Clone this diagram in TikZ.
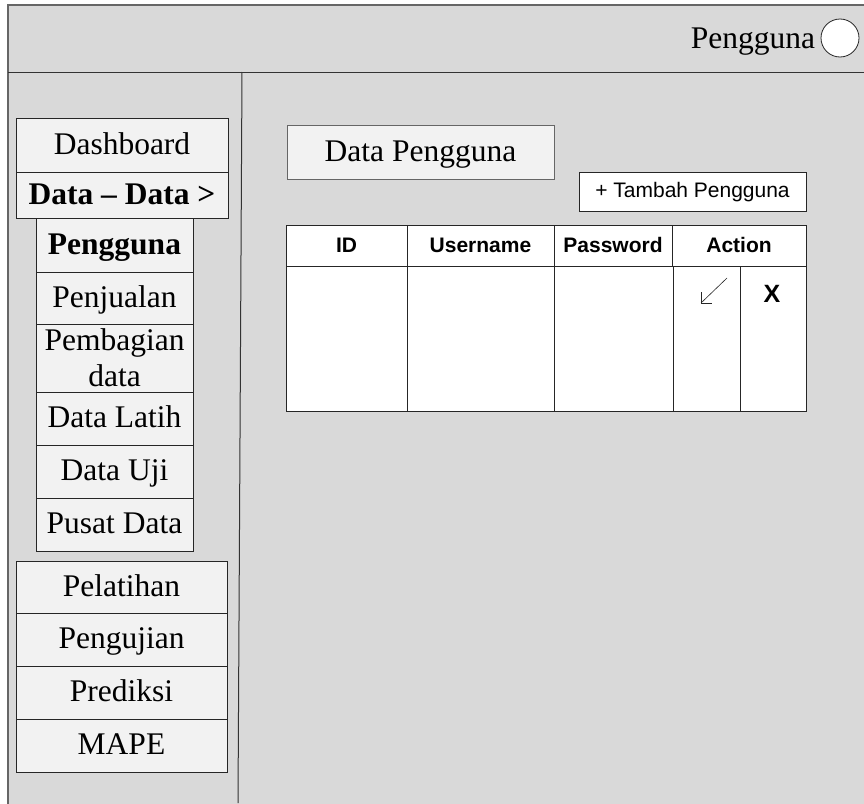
\documentclass[tikz,border=0pt]{standalone}
\usepackage{fontspec}
\setmainfont{Liberation Serif}
\setsansfont{Liberation Sans}
\definecolor{pagebg}{RGB}{217,217,217}
\definecolor{boxfill}{RGB}{242,242,242}
\definecolor{framegray}{RGB}{102,102,102}
\begin{document}
\begin{tikzpicture}[x=1pt,y=-1pt,
  every node/.style={inner sep=0pt, outer sep=0pt},
  serif/.style={font=\fontsize{31.5}{36}\selectfont},
  boxbase/.style={draw=black!85, fill=boxfill, line width=0.8pt, anchor=north west, align=center, serif},
  menu/.style={boxbase, text height=24pt, text depth=6pt},
  cell/.style={draw=black!85, fill=white, line width=0.9pt, anchor=north west},
  headcell/.style={cell, font=\sffamily\bfseries\fontsize{21}{24}\selectfont, text height=16pt, text depth=3pt},
  button/.style={draw=black!85, fill=white, line width=0.8pt, anchor=north west,
    font=\sffamily\fontsize{21}{24}\selectfont, text height=15pt, text depth=4pt}
]
\useasboundingbox (0,0) rectangle (864,803);
\clip (0,0) rectangle (864,803);

% window frame, header bar and sidebar divider
\draw[fill=pagebg, draw=framegray, line width=1.2pt] (8,5) rectangle (880,820);
\draw[black!80, line width=1pt] (8,72) -- (880,72);
\coordinate (divtop) at (242,72);
\coordinate (divbot) at (238,803);
\draw[black!80, line width=1pt] (divtop) -- (divbot);

% header: user name and avatar
\node[serif, anchor=east, text height=24pt, text depth=6pt] (user) at (815,39) {Pengguna};
\node[draw=black!85, fill=white, line width=0.8pt, ellipse/.try, circle, minimum size=38pt] (avatar) at (840,38) {};

% sidebar menu
\node[menu, minimum width=212pt, minimum height=54pt] (dash) at (16,118) {Dashboard};
\node[menu, minimum width=212pt, minimum height=46pt, font=\bfseries\fontsize{31.5}{36}\selectfont] (data) at (16,172) {Data -- Data >};
\node[menu, minimum width=157pt, minimum height=54pt, font=\bfseries\fontsize{31.5}{36}\selectfont] (pengguna) at (36,218) {Pengguna};
\node[menu, minimum width=157pt, minimum height=52pt] (penjualan) at (36,272) {Penjualan};
\node[boxbase, minimum width=157pt, minimum height=68pt] (pembagian) at (36,324) {Pembagian\\data};
\node[menu, minimum width=157pt, minimum height=53pt] (latih) at (36,392) {Data Latih};
\node[menu, minimum width=157pt, minimum height=53pt] (uji) at (36,445) {Data Uji};
\node[menu, minimum width=157pt, minimum height=53pt] (pusat) at (36,498) {Pusat Data};
\node[menu, minimum width=211pt, minimum height=52pt] (pelatihan) at (16,561) {Pelatihan};
\node[menu, minimum width=211pt, minimum height=53pt] (pengujian) at (16,613) {Pengujian};
\node[menu, minimum width=211pt, minimum height=53pt] (prediksi) at (16,666) {Prediksi};
\node[menu, minimum width=211pt, minimum height=53pt] (mape) at (16,719) {MAPE};

% page title and add button
\node[menu, minimum width=267pt, minimum height=54pt, draw=framegray] (title) at (287,125) {Data Pengguna};
\node[button, minimum width=227pt, minimum height=39pt] (add) at (579,172) {+ Tambah Pengguna};

% table header
\node[headcell, minimum width=121pt, minimum height=41pt] (hid) at (286,225) {ID};
\node[headcell, minimum width=147pt, minimum height=41pt] (huser) at (407,225) {Username};
\node[headcell, minimum width=118pt, minimum height=41pt] (hpass) at (554,225) {Password};
\node[headcell, minimum width=134pt, minimum height=41pt] (hact) at (672,225) {Action};

% table body
\node[cell, minimum width=121pt, minimum height=145pt] (bid) at (286,266) {};
\node[cell, minimum width=147pt, minimum height=145pt] (buser) at (407,266) {};
\node[cell, minimum width=119pt, minimum height=145pt] (bpass) at (554,266) {};
\node[cell, minimum width=67pt, minimum height=145pt] (bedit) at (673,266) {};
\node[cell, minimum width=66pt, minimum height=145pt] (bdel) at (740,266) {};

% edit and delete icons
\coordinate (edittail) at (727,278);
\coordinate (edittip) at (701,303);
\draw[black!85, line width=0.6pt] (edittail) -- (edittip);
\draw[black!85, line width=0.6pt] (701,292) -- (edittip) -- (712,303);
\node[font=\sffamily\bfseries\fontsize{25}{28}\selectfont] (del) at (772,294) {X};
\end{tikzpicture}
\end{document}
